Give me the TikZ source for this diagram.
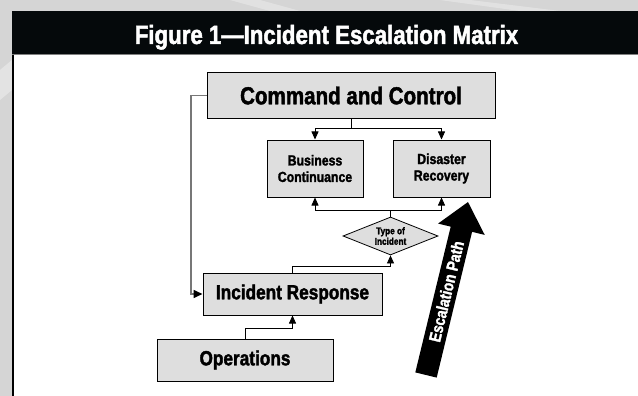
\documentclass[tikz,border=0pt]{standalone}
\usepackage{fontspec}
\usetikzlibrary{arrows.meta,shapes.geometric,calc}
\newfontfamily\condbold[FakeStretch=0.84,FakeBold=1.8]{Liberation Sans Bold}
\definecolor{boxfill}{HTML}{DEDEDE}
\definecolor{backdrop}{HTML}{D5D5D5}
\definecolor{headbar}{HTML}{05090B}
\definecolor{loopline}{HTML}{777777}
\begin{document}
\begin{tikzpicture}[x=1pt,y=-1pt,
  box/.style={draw=black,line width=1pt,fill=boxfill,inner sep=0pt,align=center,font=\condbold},
  link/.style={line width=0.8pt,-{Triangle[length=8,width=7]}},
  plain/.style={line width=0.8pt}]
\useasboundingbox (0,0) rectangle (638,396);
% textured backdrop and panel
\fill[backdrop] (0,0) rectangle (638,396);
\fill[white,opacity=0.35] (0,70) -- (12,60) -- (12,90) -- (0,100) -- cycle;
\fill[white,opacity=0.3] (230,0) -- (260,0) -- (300,11) -- (270,11) -- cycle;
\fill[white,opacity=0.3] (470,0) -- (560,11) -- (520,11) -- (440,0) -- cycle;
\fill[white] (12,55) rectangle (638,396);
\draw[gray,line width=0.6pt] (12,11) rectangle (640,54);
\fill[headbar] (12,11) rectangle (638,54);
\draw[black,line width=2pt] (13,55) -- (13,396);
\node[text=white,anchor=base,inner sep=0pt,font=\condbold\fontsize{26.5}{30}\selectfont] (title) at (326.5,44) {Figure 1—Incident Escalation Matrix};

% boxes
\node[box,minimum width=288,minimum height=46,font=\condbold\fontsize{24.5}{28}\selectfont] (cc) at (351,95.5) {Command and Control};
\node[box,minimum width=96,minimum height=57,font=\condbold\fontsize{14.6}{16.5}\selectfont] (bc) at (315,168.5) {Business\\Continuance};
\node[box,minimum width=97,minimum height=57,font=\condbold\fontsize{14.6}{16.5}\selectfont] (dr) at (441.5,168.5) {Disaster\\Recovery};
\node[draw=black,line width=0.8pt,fill=boxfill,diamond,aspect=2.5,minimum width=95,minimum height=38,inner sep=0pt,align=center,font=\condbold\fontsize{9.8}{10.5}\selectfont] (toi) at (390.5,236) {Type of\\Incident};
\node[box,minimum width=179,minimum height=42,font=\condbold\fontsize{20.5}{23}\selectfont] (ir) at (292.5,294) {Incident Response};
\node[box,minimum width=176,minimum height=42,font=\condbold\fontsize{20.5}{23}\selectfont] (ops) at (245,360) {Operations};

% junctions
\coordinate (split1) at (351,128);
\coordinate (split2) at (390.5,210);
\coordinate (j3) at (292.5,328);
\coordinate (j4) at (390.5,266);
\coordinate (j5) at (191,95.5);

% connectors
\draw[plain] (cc.south) -- (split1);
\draw[link] (split1) -| (bc.north);
\draw[link] (split1) -| (dr.north);
\draw[plain] (toi.north) -- (split2);
\draw[link] (split2) -| (bc.south);
\draw[link] (split2) -| (dr.south);
\draw[link] (ir.north) |- (j4) -- (toi.south);
\draw[link] (ops.north) |- (j3) -- (ir.south);
\draw[line width=1.6pt,loopline,-{Triangle[length=9,width=8,color=black]}] (cc.west) -- (j5) |- (ir.west);

% escalation arrow
\begin{scope}[shift={(426,375)},rotate=76.35]
  \fill[black] (0,-11) -- (150,-11) -- (150,-24) -- (178,0) -- (150,24) -- (150,11) -- (0,11) -- cycle;
  \node[text=white,font=\condbold\fontsize{16.5}{18}\selectfont,transform shape] (esc) at (86,0) {Escalation Path};
\end{scope}
\end{tikzpicture}
\end{document}
